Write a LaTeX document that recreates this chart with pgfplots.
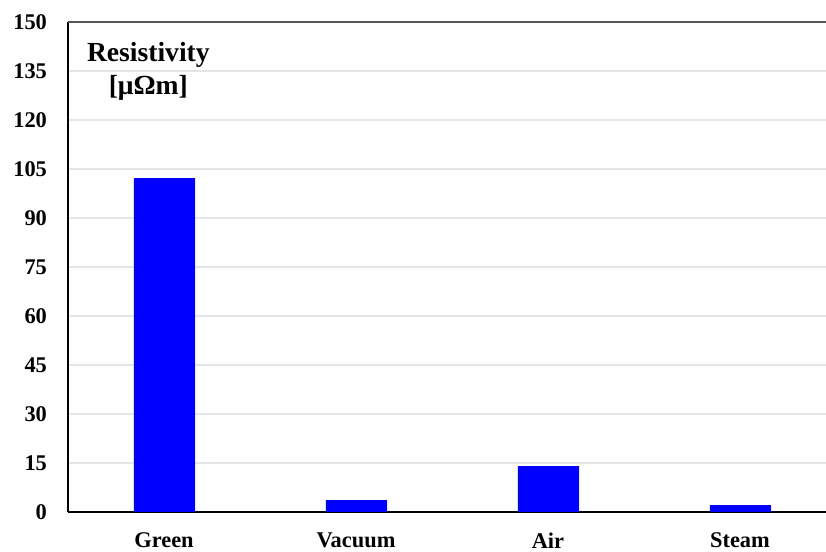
\documentclass[border=0pt]{standalone}
\usepackage{fontspec}
\setmainfont{Liberation Serif}
\usepackage{pgfplots}
\pgfplotsset{compat=1.18}

\definecolor{gridgray}{HTML}{E6E6E6}
\definecolor{topgray}{HTML}{555555}

\begin{document}
\begin{tikzpicture}
\begin{axis}[
    scale only axis,
    width=379pt, height=245pt,
    xmin=-0.5, xmax=3.448,
    ymin=0, ymax=150,
    ybar, bar width=30pt,
    axis lines*=left,
    x axis line style={line width=1.1pt},
    y axis line style={line width=0.8pt},
    xtick=data,
    xticklabels={Green, Vacuum, Air, Steam},
    ytick={0,15,...,135},
    extra y ticks={150},
    extra y tick style={grid=major, major grid style={topgray, line width=0.9pt}},
    ymajorgrids,
    major grid style={gridgray, line width=0.6pt},
    major tick length=0pt,
    tick label style={font=\fontsize{11.2}{13}\selectfont\bfseries},
    /pgf/number format/assume math mode=true,
    yticklabel style={xshift=-7pt},
    xticklabel style={yshift=-7pt},
]
\addplot[fill=blue, draw=blue] coordinates {(0,102) (1,3.5) (2,14) (3,2)};
\node[align=center, font=\fontsize{13.8}{16.5}\selectfont\bfseries]
    at (axis description cs:0.106,0.9) {Resistivity\\{[}μΩm{]}};
\end{axis}
\pgfresetboundingbox
\path ([xshift=-34pt,yshift=-20pt]current axis.south west) rectangle ([yshift=11pt]current axis.north east);
\end{tikzpicture}
\end{document}
